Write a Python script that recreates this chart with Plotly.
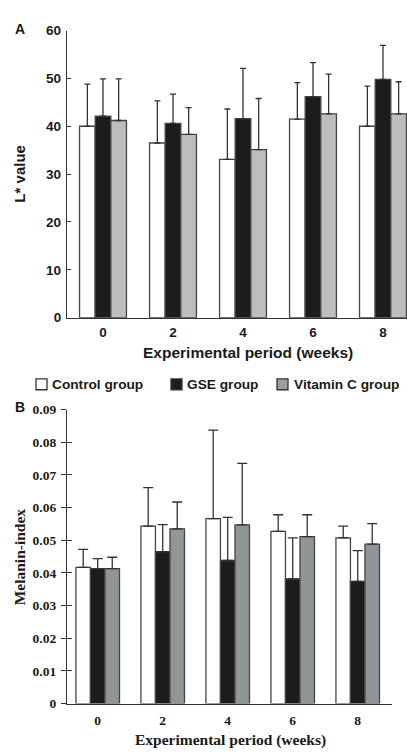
import plotly.graph_objects as go

W, H = 407, 756

weeks = [0, 2, 4, 6, 8]
week_labels = ["0", "2", "4", "6", "8"]
groups = ["Control group", "GSE group", "Vitamin C group"]

# Panel A: L* value (mean, upper SD)
lstar_control = [40.0, 36.5, 33.1, 41.5, 40.0]
lstar_control_sd = [8.8, 8.8, 10.5, 7.6, 8.4]
lstar_gse = [42.1, 40.6, 41.6, 46.2, 49.8]
lstar_gse_sd = [7.8, 6.1, 10.5, 7.1, 7.1]
lstar_vitc = [41.2, 38.3, 35.1, 42.6, 42.6]
lstar_vitc_sd = [8.7, 5.6, 10.7, 8.3, 6.7]

# Panel B: Melanin-index (mean, upper SD)
mel_control = [0.0417, 0.0543, 0.0566, 0.0527, 0.0507]
mel_control_sd = [0.0055, 0.0118, 0.0271, 0.0051, 0.0036]
mel_gse = [0.0413, 0.0465, 0.0438, 0.0382, 0.0374]
mel_gse_sd = [0.0031, 0.0083, 0.0132, 0.0125, 0.0094]
mel_vitc = [0.0413, 0.0535, 0.0547, 0.0511, 0.0488]
mel_vitc_sd = [0.0035, 0.0082, 0.0188, 0.0067, 0.0063]

lstar_ticks = [0, 10, 20, 30, 40, 50, 60]
mel_ticks = [0, 0.01, 0.02, 0.03, 0.04, 0.05, 0.06, 0.07, 0.08, 0.09]
mel_ticklabels = ["0", "0.01", "0.02", "0.03", "0.04", "0.05", "0.06", "0.07", "0.08", "0.09"]

x_title = "Experimental period (weeks)"
a_y_title = "L* value"
b_y_title = "Melanin-index"

fills_a = ["#ffffff", "#1c1c1c", "#bbbdbe"]
fills_b = ["#ffffff", "#1c1c1c", "#909597"]
OUTLINE = "#444444"
TXT = "#1a1a1a"
SANS = "Liberation Sans, Arial, sans-serif"
SERIF = "Liberation Serif, Times New Roman, serif"


def px_x(px):
    return px / W


def px_y(py):
    return 1 - py / H


fig = go.Figure()

a_data = [(lstar_control, lstar_control_sd), (lstar_gse, lstar_gse_sd), (lstar_vitc, lstar_vitc_sd)]
b_data = [(mel_control, mel_control_sd), (mel_gse, mel_gse_sd), (mel_vitc, mel_vitc_sd)]

for i, (vals, sd) in enumerate(a_data):
    fig.add_trace(go.Bar(
        x=weeks, y=vals, name=groups[i], showlegend=False,
        marker=dict(color=fills_a[i], line=dict(color=OUTLINE, width=1.3)),
        error_y=dict(type="data", symmetric=False, array=sd, arrayminus=[0] * len(sd),
                     color="#333333", thickness=1.3, width=3),
        xaxis="x", yaxis="y",
    ))

for i, (vals, sd) in enumerate(b_data):
    fig.add_trace(go.Bar(
        x=weeks, y=vals, name=groups[i], showlegend=False,
        marker=dict(color=fills_b[i], line=dict(color=OUTLINE, width=1.3)),
        error_y=dict(type="data", symmetric=False, array=sd, arrayminus=[0] * len(sd),
                     color="#333333", thickness=1.3, width=5),
        xaxis="x2", yaxis="y2",
    ))

# invisible trace to activate yaxis3 (inner half of B's crossing ticks)
fig.add_trace(go.Scatter(x=[None], y=[None], xaxis="x2", yaxis="y3",
                         showlegend=False, hoverinfo="skip"))

sans_tick = dict(family=SANS, size=13.5, color=TXT, weight="bold")
serif_tick = dict(family=SERIF, size=13.5, color=TXT, weight="bold")

fig.update_layout(
    width=W, height=H,
    margin=dict(l=0, r=0, t=0, b=0),
    paper_bgcolor="white", plot_bgcolor="white",
    barmode="group", bargap=0.33, bargroupgap=0,
    showlegend=False,
    xaxis=dict(
        domain=[px_x(67), 1.0], range=[-1.029, 8.686], anchor="y",
        tickmode="array", tickvals=weeks, ticktext=week_labels,
        ticks="", showgrid=False, zeroline=False,
        showline=True, linecolor="#333333", linewidth=1.3,
        tickfont=sans_tick, ticklabelstandoff=2,
    ),
    yaxis=dict(
        domain=[px_y(317), px_y(24)], range=[0, 60], anchor="x",
        tickmode="array", tickvals=lstar_ticks,
        ticks="inside", ticklen=4, tickwidth=1.3, tickcolor="#333333",
        showgrid=False, zeroline=False,
        showline=True, linecolor="#333333", linewidth=1.3,
        tickfont=sans_tick, ticklabelstandoff=2,
    ),
    xaxis2=dict(
        domain=[px_x(67), px_x(392)], range=[-0.945, 9.055], anchor="y2",
        tickmode="array", tickvals=weeks, ticktext=week_labels,
        ticks="", showgrid=False, zeroline=False,
        showline=True, linecolor="#333333", linewidth=1.3,
        tickfont=serif_tick, ticklabelstandoff=4,
    ),
    yaxis2=dict(
        domain=[px_y(710.7), px_y(410.7)], range=[0, 0.09], anchor="x2",
        tickmode="array", tickvals=mel_ticks, ticktext=mel_ticklabels,
        ticks="outside", ticklen=5, tickwidth=1.3, tickcolor="#333333",
        showgrid=False, zeroline=False,
        showline=True, linecolor="#333333", linewidth=1.3,
        tickfont=serif_tick, ticklabelstandoff=2,
    ),
    yaxis3=dict(
        domain=[px_y(710.7), px_y(410.7)], range=[0, 0.09], anchor="x2",
        overlaying="y2", side="left",
        tickmode="array", tickvals=mel_ticks,
        ticks="inside", ticklen=5, tickwidth=1.3, tickcolor="#333333",
        showticklabels=False, showgrid=False, zeroline=False, showline=False,
    ),
)

annotations = [
    dict(text="A", x=px_x(13), y=px_y(22), xanchor="left", yanchor="middle",
         font=dict(family=SANS, size=14, color=TXT, weight="bold")),
    dict(text="B", x=px_x(13), y=px_y(408), xanchor="left", yanchor="middle",
         font=dict(family=SANS, size=14, color=TXT, weight="bold")),
    # axis titles
    dict(text=x_title, x=px_x(248), y=px_y(352), xanchor="center", yanchor="middle",
         font=dict(family=SANS, size=15.5, color=TXT, weight="bold")),
    dict(text=a_y_title, x=px_x(20), y=px_y(170), xanchor="center", yanchor="middle",
         textangle=-90, font=dict(family=SANS, size=15, color=TXT, weight="bold")),
    dict(text=x_title, x=px_x(230), y=px_y(747.5), xanchor="center", yanchor="middle",
         font=dict(family=SERIF, size=15.5, color=TXT, weight="bold")),
    dict(text=b_y_title, x=px_x(19), y=px_y(561.5), xanchor="center", yanchor="middle",
         textangle=-90, font=dict(family=SERIF, size=15.5, color=TXT, weight="bold")),
]

# legend row (custom so that swatches sit tight against their labels)
legend_sw_left = [36, 171, 277]
legend_txt_left = [50, 185, 292]
legend_fill = ["#ffffff", "#1c1c1c", "#9c9fa1"]
legend_y = 385
shapes = []
for i, g in enumerate(groups):
    x0 = legend_sw_left[i]
    shapes.append(dict(type="rect", xref="paper", yref="paper",
                       x0=px_x(x0), x1=px_x(x0 + 11),
                       y0=px_y(legend_y + 5.5), y1=px_y(legend_y - 5.5),
                       fillcolor=legend_fill[i], line=dict(color="#333333", width=1.3)))
    annotations.append(dict(text=g, x=px_x(legend_txt_left[i]), y=px_y(legend_y),
                            xanchor="left", yanchor="middle",
                            font=dict(family=SANS, size=13.7, color=TXT, weight="bold")))

for a in annotations:
    a.update(xref="paper", yref="paper", showarrow=False)

fig.update_layout(annotations=annotations, shapes=shapes)

fig.write_html("out.html")
